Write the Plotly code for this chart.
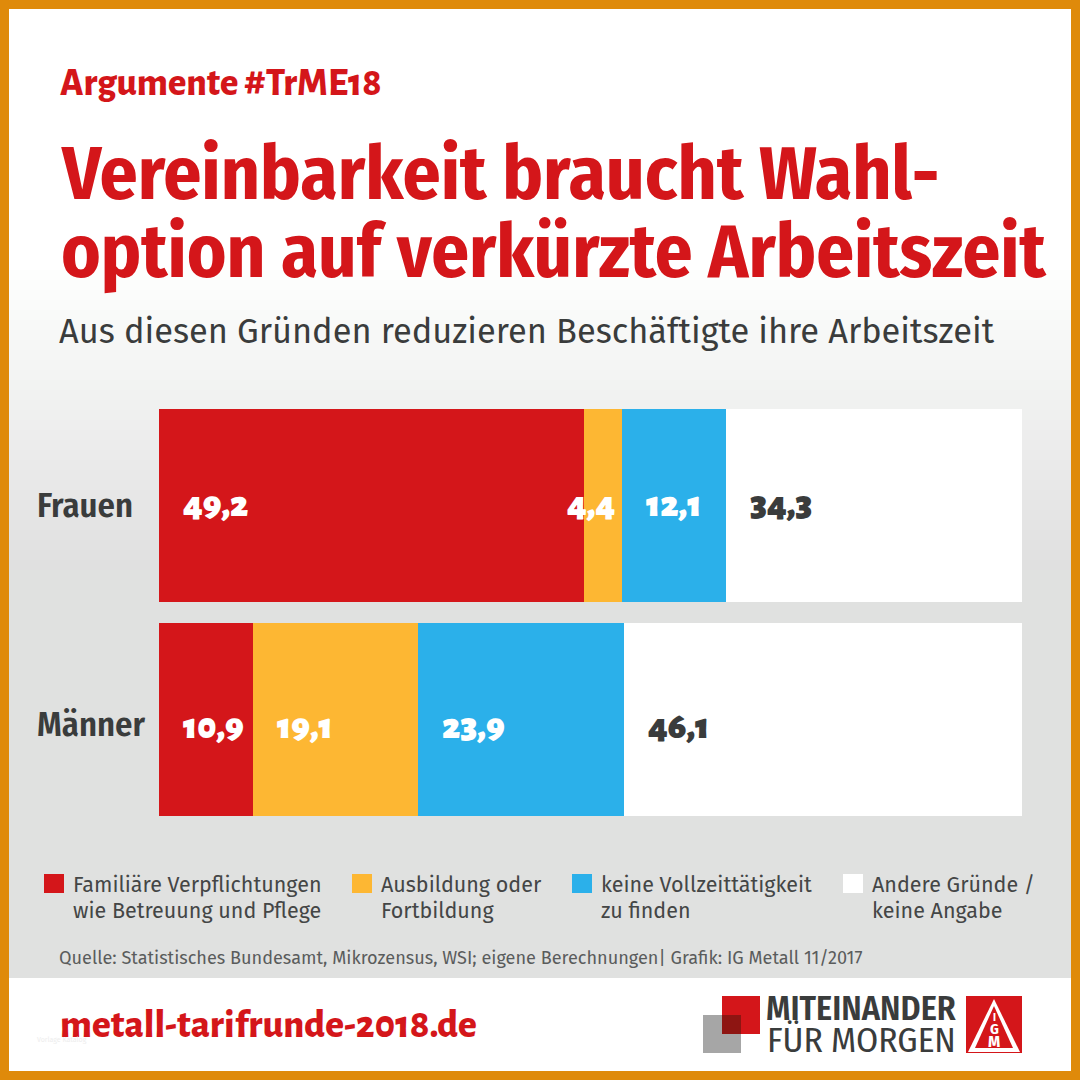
#!/usr/bin/env python3
# Stacked bars: reasons for reduced working time, women vs men
import plotly.graph_objects as go

groups = ['Frauen', 'Männer']
series_names = ['Familiäre Verpflichtungen<br>wie Betreuung und Pflege',
                'Ausbildung oder<br>Fortbildung',
                'keine Vollzeittätigkeit<br>zu finden',
                'Andere Gründe /<br>keine Angabe']
familie = [49.2, 10.9]
ausbildung = [4.4, 19.1]
keine_vollzeit = [12.1, 23.9]
andere = [34.3, 46.1]
series_values = [familie, ausbildung, keine_vollzeit, andere]

RED = '#D4161A'
YELLOW = '#FDB733'
BLUE = '#2BB0EA'
WHITE = '#FFFFFF'
ORANGE = '#DF8A0A'
GREY = '#E0E1E0'
DARK = '#3A3C3C'
colors = [RED, YELLOW, BLUE, WHITE]
label_colors = [WHITE, WHITE, WHITE, DARK]

# closest faces to the original, the named ones are the safe fallback
SANS = 'Fira Sans, Noto Sans, sans-serif'
COND = 'Fira Sans Condensed, DejaVu Sans Condensed, Noto Sans, sans-serif'
OLD = 'Alegreya Sans, Lato, Noto Sans, sans-serif'


def px(x):
    return x / 1080


def py(y):
    return 1 - y / 1080


def rect(x0, y0, x1, y1, fill):
    return dict(type='rect', xref='paper', yref='paper', layer='below',
                x0=px(x0), x1=px(x1), y0=py(y0), y1=py(y1),
                fillcolor=fill, line=dict(width=0))


def triangle(x0, y0, x1, y1, x2, y2, fill):
    return dict(type='path', xref='paper', yref='paper', layer='below',
                path='M %f %f L %f %f L %f %f Z' % (px(x0), py(y0), px(x1), py(y1), px(x2), py(y2)),
                fillcolor=fill, line=dict(width=0))


def text(x, y, s, size, color, family=SANS, weight=400, anchor='left'):
    return dict(xref='paper', yref='paper', x=px(x), y=py(y), text=s, showarrow=False,
                xanchor=anchor, yanchor='middle', align='left',
                font=dict(family=family, size=size, color=color, weight=weight))


shapes = [rect(0, 0, 1080, 1080, ORANGE), rect(9, 9, 1071, 1071, WHITE)]
# background fade from white to grey
for i in range(30):
    t = (i + 1) / 30
    c = 255 - (255 - 224) * t
    shapes.append(rect(9, 270 + i * 10, 1071, 280 + i * 10, 'rgb(%d,%d,%d)' % (c, c + 0.5, c)))
shapes.append(rect(9, 570, 1071, 978, GREY))

annotations = [
    text(58, 84, 'Argumente #TrME18', 38.5, RED, OLD, 800),
    text(59, 174, 'Vereinbarkeit braucht Wahl-', 75.2, RED, COND, 700),
    text(59, 252, 'option auf verkürzte Arbeitszeit', 74.5, RED, COND, 700),
    text(57, 332, 'Aus diesen Gründen reduzieren Beschäftigte ihre Arbeitszeit', 34.4, DARK),
    text(57, 958, 'Quelle: Statistisches Bundesamt, Mikrozensus, WSI; eigene Berechnungen| Grafik: IG Metall 11/2017', 18.1, '#5A5C5C'),
    text(58, 1025, 'metall-tarifrunde-2018.de', 39.4, RED, OLD, 800),
    text(35, 1039, 'Vorlage Katalog', 7, '#EDEDED'),
    text(764, 1008, 'MITEINANDER', 34, DARK, COND, 600),
    text(765, 1040, 'FÜR MORGEN', 35.5, DARK, COND, 400),
]

# legend drawn by hand, the entries are spaced unevenly
swatch_x = [44, 352, 572, 843]
for name, col, sx in zip(series_names, colors, swatch_x):
    shapes.append(rect(sx, 874, sx + 20, 893, col))
    first, second = name.split('<br>')
    annotations.append(text(sx + 27, 885, first, 21.5, '#444646'))
    annotations.append(text(sx + 27, 911, second, 21.5, '#444646'))

# logo: two overlapping squares
shapes.append(rect(703, 1015, 741, 1053, '#A6A6A6'))
shapes.append(rect(722, 996, 760, 1034, RED))
shapes.append(rect(722, 1015, 741, 1034, '#8E1512'))
# IG Metall mark
shapes.append(rect(966, 996, 1022, 1053, RED))
shapes.append(triangle(994, 999, 1020, 1052, 968, 1052, WHITE))
shapes.append(triangle(994, 1006, 1013, 1048, 975, 1048, RED))
annotations.append(text(994, 1017, 'I', 11, WHITE, COND, 700, 'center'))
annotations.append(text(994, 1029, 'G', 15, WHITE, COND, 700, 'center'))
annotations.append(text(994, 1041, 'M', 17, WHITE, COND, 700, 'center'))

fig = go.Figure()
for name, vals, col in zip(series_names, series_values, colors):
    fig.add_trace(go.Bar(y=groups, x=vals, name=name, orientation='h',
                         marker=dict(color=col, line=dict(width=0)), showlegend=False))

# value labels sit at the left edge of each segment
shift_y = [1, -7]
for g, group in enumerate(groups):
    annotations.append(dict(xref='paper', x=px(35), y=group, yref='y', text=group, showarrow=False,
                            xanchor='left', yanchor='middle', yshift=-5 * g,
                            font=dict(family=COND, size=34.5, color=DARK, weight=600)))
    start = 0
    for s, vals in enumerate(series_values):
        v = vals[g]
        xs = -19 if v < 5 else 22
        annotations.append(dict(x=start, y=group, xref='x', yref='y', text=str(v).replace('.', ','),
                                showarrow=False, xanchor='left', yanchor='middle', xshift=xs,
                                yshift=shift_y[g], font=dict(family=OLD, size=37.5, color=label_colors[s], weight=900)))
        start += v

fig.update_layout(
    barmode='stack', bargap=0.098,
    width=1080, height=1080, margin=dict(l=0, r=0, t=0, b=0),
    paper_bgcolor=ORANGE, plot_bgcolor='rgba(0,0,0,0)',
    xaxis=dict(domain=[px(159), px(1022)], range=[0, 100], visible=False),
    yaxis=dict(domain=[py(816 + 10.5), py(409 - 10.5)], autorange='reversed', visible=False),
    shapes=shapes, annotations=annotations,
)

fig.write_html('out.html', config=dict(displayModeBar=False),
               post_script="document.body.style.margin='0';")
